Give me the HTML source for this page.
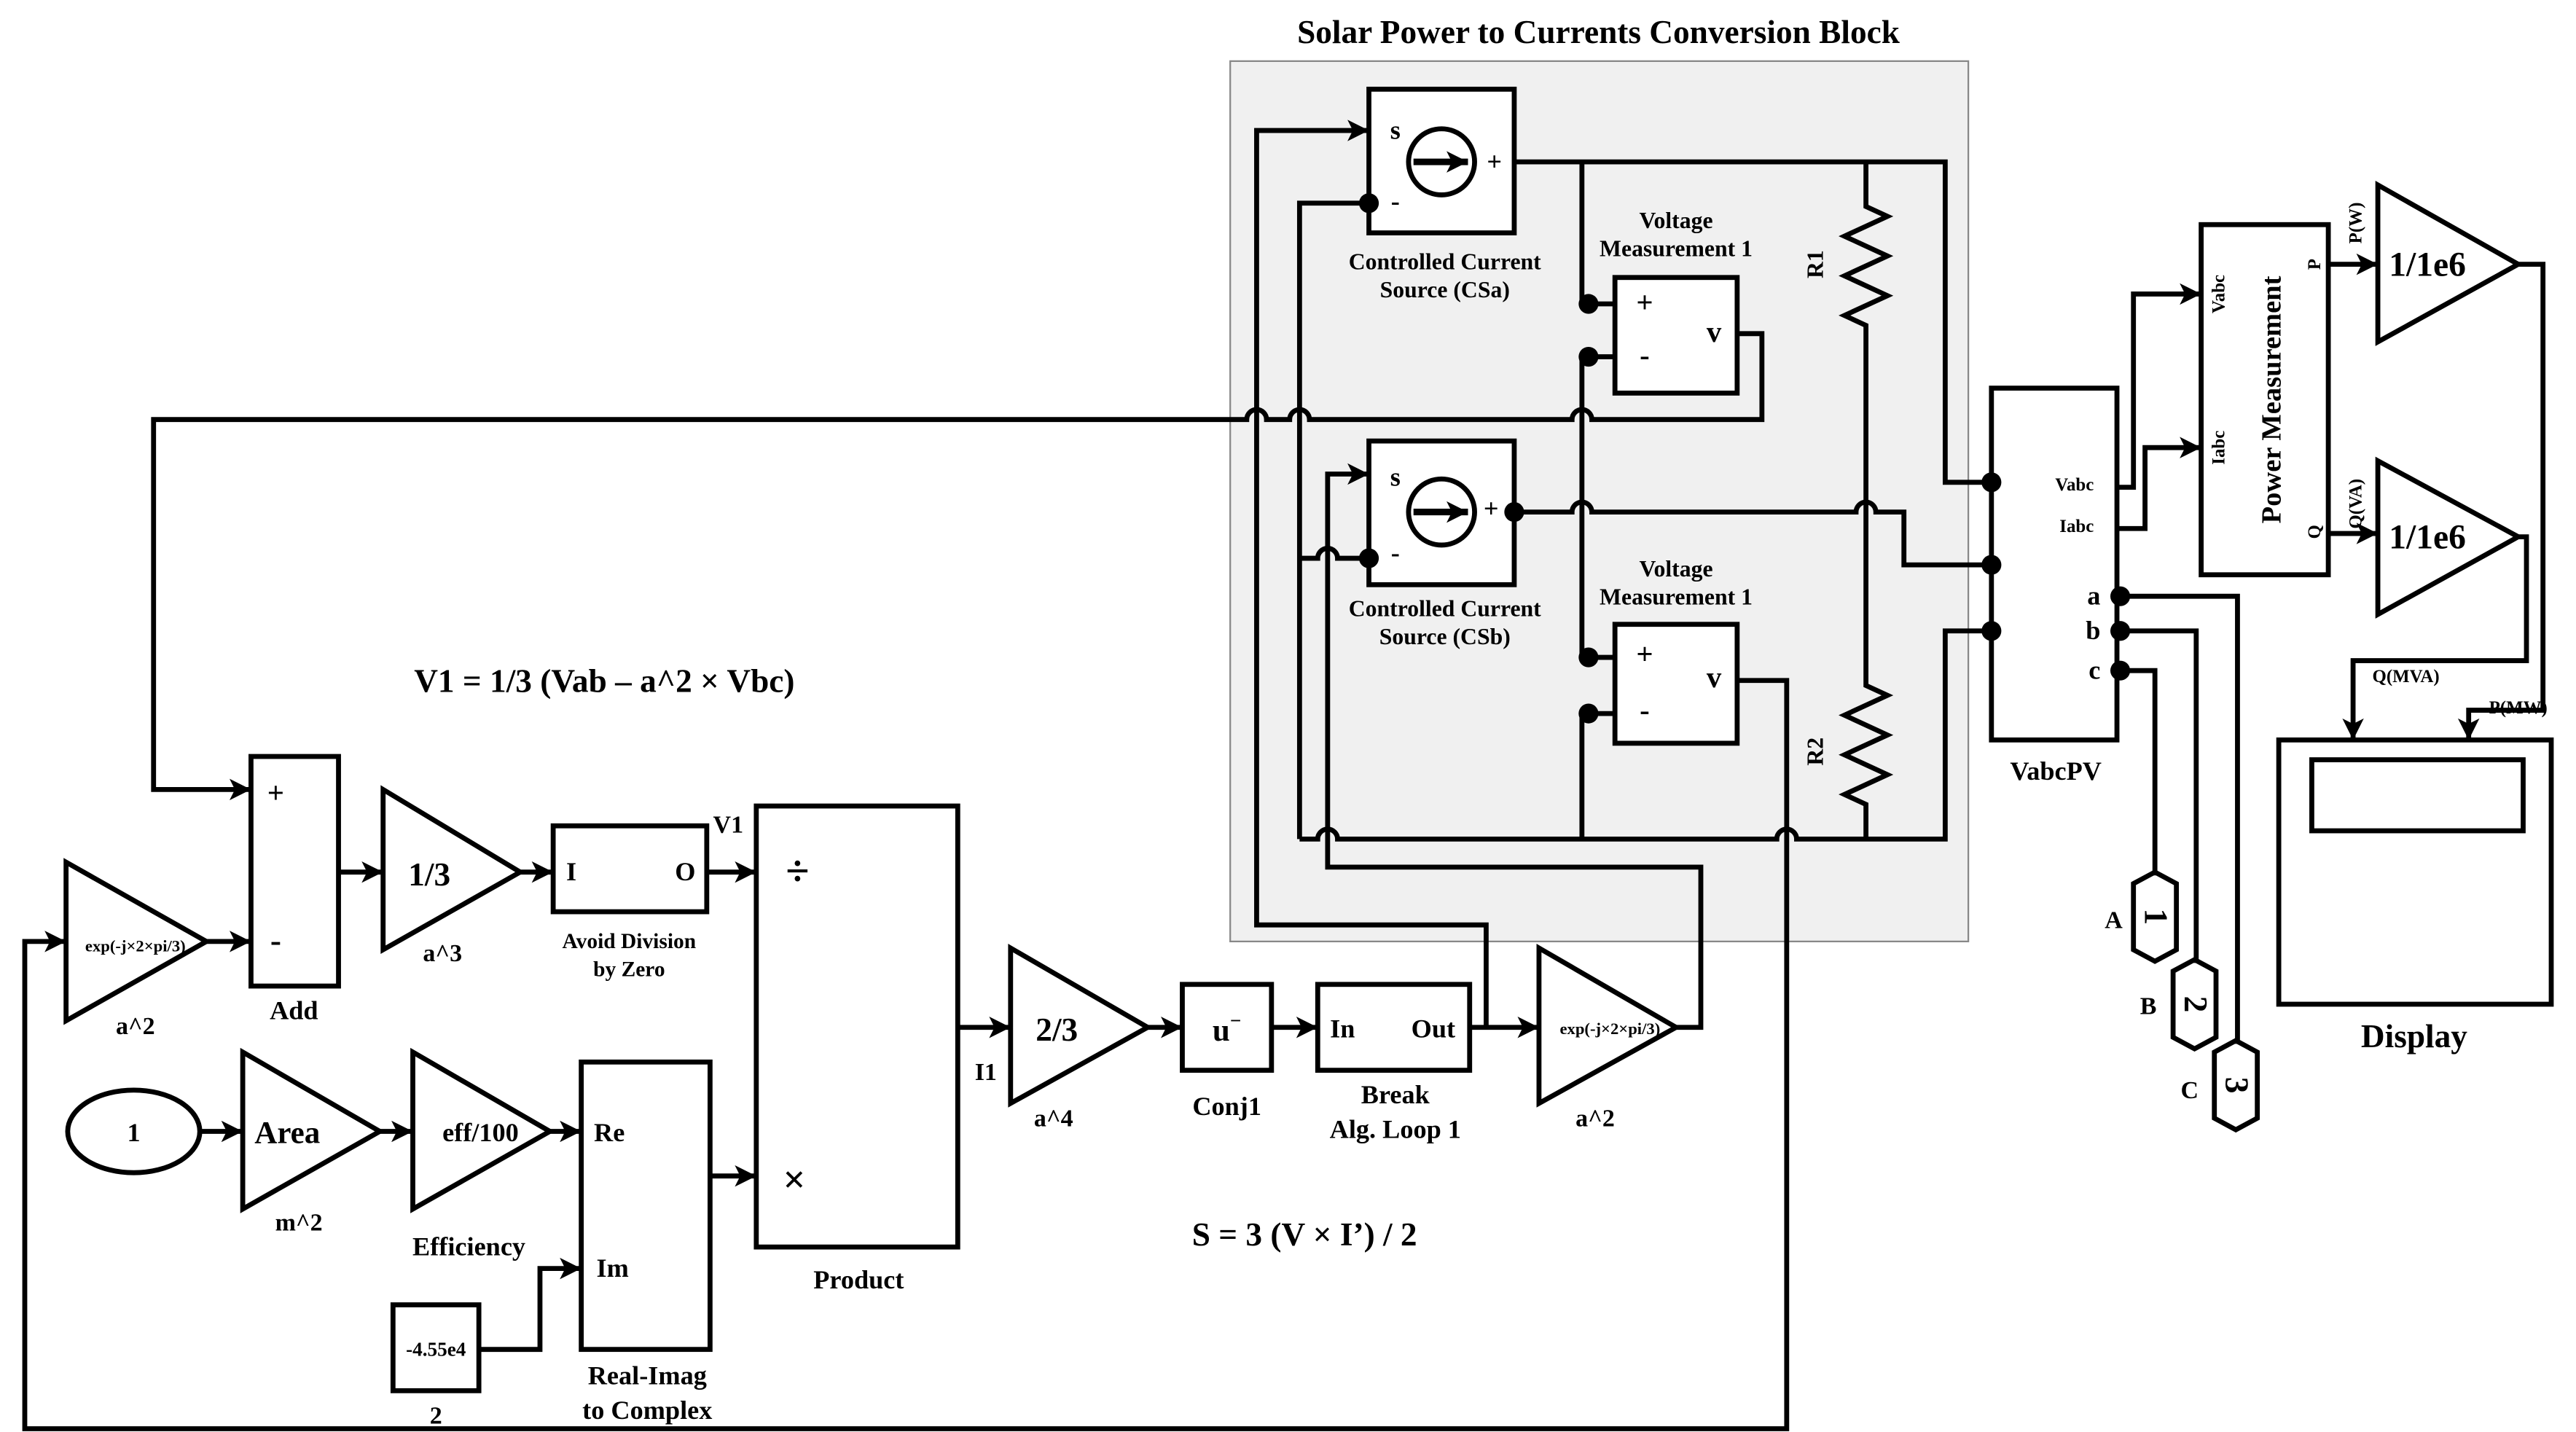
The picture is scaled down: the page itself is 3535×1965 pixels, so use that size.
<!DOCTYPE html>
<html><head><meta charset="utf-8"><style>
html,body{margin:0;padding:0;background:#fff;}
svg{display:block;}
text{font-family:"Liberation Serif",serif;font-weight:bold;fill:#000;}
</style></head><body>
<svg width="3535" height="1965" viewBox="0 0 1560 867" preserveAspectRatio="none" xmlns="http://www.w3.org/2000/svg">
<defs>
<marker id="ar" viewBox="0 0 10 10" refX="10" refY="5" markerWidth="14" markerHeight="13" markerUnits="userSpaceOnUse" orient="auto">
<path d="M0,0 L10,5 L0,10 L2.5,5 z" fill="#000"/></marker>
</defs>
<g fill="none" stroke="#000" stroke-width="3">
<rect x="745" y="37" width="447" height="533" fill="#f0f0f0" stroke="#888" stroke-width="1"/>
</g>
<text x="968" y="26" font-size="20" text-anchor="middle">Solar Power to Currents Conversion Block</text>
<g fill="none" stroke="#000" stroke-width="3" stroke-linejoin="miter">
<!-- CSa -->
<rect x="829" y="54" width="88" height="87" fill="#fff"/>
<circle cx="873" cy="98" r="20" fill="#fff"/>
<line x1="856" y1="98" x2="889" y2="98" marker-end="url(#ar)" stroke-width="4"/>
<!-- CSb -->
<rect x="829" y="267" width="88" height="87" fill="#fff"/>
<circle cx="873" cy="310" r="20" fill="#fff"/>
<line x1="856" y1="310" x2="889" y2="310" marker-end="url(#ar)" stroke-width="4"/>
<rect x="978" y="168" width="74" height="70" fill="#fff"/>
<rect x="978" y="378" width="74" height="72" fill="#fff"/>
<path d="M917,98 L1178,98 L1178,292 L1206,292"/>
<path d="M958,98 L958,184 L978,184"/>
<path d="M978,216 L958,216 L958,398 L978,398"/>
<path d="M978,432 L958,432 L958,508"/>
<!-- R1/R2 -->
<path d="M1130,98 L1130,125 L1143,131 L1117,143 L1143,155 L1117,167 L1143,179 L1117,191 L1130,197 L1130,415 L1143,421 L1117,433 L1143,445 L1117,457 L1143,469 L1117,481 L1130,487 L1130,508"/>
<path d="M917,310 L952,310 A6,6 0 0 1 964,310 L1124,310 A6,6 0 0 1 1136,310 L1153,310 L1153,342 L1206,342"/>
<path d="M787,508 L798,508 A6,6 0 0 1 810,508 L1076,508 A6,6 0 0 1 1088,508 L1178,508 L1178,382 L1206,382"/>
<path d="M829,123 L787,123 L787,508"/>
<path d="M829,338 L810,338 A6,6 0 0 0 798,338 L787,338"/>
<path d="M1015,622 L1030,622 L1030,525 L804,525 L804,287 L829,287" marker-end="url(#ar)"/>
<path d="M890,622 L932,622" marker-end="url(#ar)"/>
<path d="M900,622 L900,560 L761,560 L761,79 L829,79" marker-end="url(#ar)"/>
<path d="M1052,202 L1067,202 L1067,254 L964,254 A6,6 0 0 0 952,254 L793,254 A6,6 0 0 0 781,254 L767,254 A6,6 0 0 0 755,254 L93,254 L93,478 L152,478" marker-end="url(#ar)"/>
<path d="M1052,412 L1082,412 L1082,865 L15,865 L15,570 L40,570" marker-end="url(#ar)"/>
<!-- VabcPV -->
<rect x="1206" y="235" width="76" height="213" fill="#fff"/>
<path d="M1282,295 L1292,295 L1292,178 L1333,178" marker-end="url(#ar)"/>
<path d="M1282,320 L1299,320 L1299,271 L1333,271" marker-end="url(#ar)"/>
<rect x="1333" y="136" width="77" height="212" fill="#fff"/>
<path d="M1410,160 L1440,160" marker-end="url(#ar)"/>
<path d="M1410,323 L1440,323" marker-end="url(#ar)"/>
<polygon points="1440,112 1525,160 1440,207"/>
<polygon points="1440,279 1525,325 1440,372"/>
<path d="M1525,160 L1540,160 L1540,430 L1495,430 L1495,448" marker-end="url(#ar)"/>
<path d="M1525,325 L1530,325 L1530,400 L1425,400 L1425,448" marker-end="url(#ar)"/>
<rect x="1380" y="448" width="165" height="160"/>
<rect x="1400" y="460" width="128" height="43"/>
<path d="M1284,361 L1355,361 L1355,632"/>
<path d="M1284,382 L1330,382 L1330,583"/>
<path d="M1284,406 L1305,406 L1305,530"/>
<polygon points="1292,535 1305,528 1318,535 1318,575 1305,582 1292,575"/>
<polygon points="1316,588 1329,581 1342,588 1342,628 1329,635 1316,628"/>
<polygon points="1341,637 1354,630 1367,637 1367,677 1354,684 1341,677"/>
<!-- left chain -->
<polygon points="40,522 125,570 40,618"/>
<path d="M125,570 L152,570" marker-end="url(#ar)"/>
<rect x="152" y="458" width="53" height="139"/>
<path d="M205,528 L232,528" marker-end="url(#ar)"/>
<polygon points="232,478 315,528 232,575"/>
<path d="M315,528 L335,528" marker-end="url(#ar)"/>
<rect x="335" y="500" width="93" height="52"/>
<path d="M428,528 L458,528" marker-end="url(#ar)"/>
<rect x="458" y="488" width="122" height="267"/>
<path d="M580,622 L612,622" marker-end="url(#ar)"/>
<polygon points="612,574 695,622 612,668"/>
<path d="M695,622 L716,622" marker-end="url(#ar)"/>
<rect x="716" y="596" width="54" height="52"/>
<path d="M770,622 L798,622" marker-end="url(#ar)"/>
<rect x="798" y="596" width="92" height="52"/>
<polygon points="932,574 1015,622 932,668"/>
<ellipse cx="81" cy="685" rx="40" ry="25"/>
<path d="M121,685 L147,685" marker-end="url(#ar)"/>
<polygon points="147,637 230,685 147,732"/>
<path d="M230,685 L250,685" marker-end="url(#ar)"/>
<polygon points="250,637 333,685 250,732"/>
<path d="M333,685 L352,685" marker-end="url(#ar)"/>
<rect x="352" y="643" width="78" height="174"/>
<rect x="238" y="790" width="52" height="52"/>
<path d="M290,817 L327,817 L327,768 L352,768" marker-end="url(#ar)"/>
<path d="M430,712 L458,712" marker-end="url(#ar)"/>
</g>
<g fill="#000">
<circle cx="829" cy="123" r="6"/><circle cx="829" cy="338" r="6"/><circle cx="917" cy="310" r="6"/>
<circle cx="962" cy="184" r="6"/><circle cx="962" cy="216" r="6"/><circle cx="962" cy="398" r="6"/><circle cx="962" cy="432" r="6"/>
<circle cx="1206" cy="292" r="6"/><circle cx="1206" cy="342" r="6"/><circle cx="1206" cy="382" r="6"/>
<circle cx="1284" cy="361" r="6"/><circle cx="1284" cy="382" r="6"/><circle cx="1284" cy="406" r="6"/>
</g>
<g font-size="14" text-anchor="middle">
<text x="845" y="84" font-size="16">s</text><text x="905" y="103" font-size="16">+</text><text x="845" y="127" font-size="16">-</text>
<text x="845" y="294" font-size="16">s</text><text x="903" y="313" font-size="16">+</text><text x="845" y="340" font-size="16">-</text>
<text x="875" y="163">Controlled Current</text><text x="875" y="180">Source (CSa)</text>
<text x="875" y="373">Controlled Current</text><text x="875" y="390">Source (CSb)</text>
<text x="1015" y="138">Voltage</text><text x="1015" y="155">Measurement 1</text>
<text x="1015" y="349">Voltage</text><text x="1015" y="366">Measurement 1</text>
<text x="996" y="189" font-size="18">+</text><text x="996" y="221" font-size="18">-</text><text x="1038" y="207" font-size="18">v</text>
<text x="996" y="402" font-size="18">+</text><text x="996" y="436" font-size="18">-</text><text x="1038" y="416" font-size="18">v</text>
<text transform="translate(1104,160) rotate(-90)">R1</text>
<text transform="translate(1104,455) rotate(-90)">R2</text>
<text x="1268" y="297" font-size="11" text-anchor="end">Vabc</text>
<text x="1268" y="322" font-size="11" text-anchor="end">Iabc</text>
<text x="1272" y="366" font-size="16" text-anchor="end">a</text>
<text x="1272" y="387" font-size="16" text-anchor="end">b</text>
<text x="1272" y="411" font-size="16" text-anchor="end">c</text>
<text x="1245" y="472" font-size="16">VabcPV</text>
<text transform="translate(1381,242) rotate(-90)" font-size="17">Power Measurement</text>
<text transform="translate(1347,178) rotate(-90)" font-size="11">Vabc</text>
<text transform="translate(1347,271) rotate(-90)" font-size="11">Iabc</text>
<text transform="translate(1405,160) rotate(-90)" font-size="11">P</text>
<text transform="translate(1405,322) rotate(-90)" font-size="11">Q</text>
<text transform="translate(1430,135) rotate(-90)" font-size="11">P(W)</text>
<text transform="translate(1430,305) rotate(-90)" font-size="11">Q(VA)</text>
<text x="1470" y="167" font-size="21">1/1e6</text>
<text x="1470" y="332" font-size="21">1/1e6</text>
<text x="1457" y="413" font-size="11">Q(MVA)</text>
<text x="1525" y="432" font-size="11">P(MW)</text>
<text x="1462" y="634" font-size="20">Display</text>
<text transform="translate(1299,555) rotate(90)" font-size="20">1</text>
<text transform="translate(1323,608) rotate(90)" font-size="20">2</text>
<text transform="translate(1348,657) rotate(90)" font-size="20">3</text>
<text x="1280" y="562" font-size="15">A</text>
<text x="1301" y="614" font-size="15">B</text>
<text x="1326" y="665" font-size="15">C</text>
<text x="366" y="419" font-size="20">V1 = 1/3 (Vab – a^2 × Vbc)</text>
<text x="82" y="576" font-size="10" font-weight="normal">exp(-j×2×pi/3)</text>
<text x="82" y="626" font-size="15">a^2</text>
<text x="167" y="486" font-size="18" font-weight="normal">+</text>
<text x="167" y="576" font-size="20">-</text>
<text x="178" y="617" font-size="16">Add</text>
<text x="260" y="536" font-size="20">1/3</text>
<text x="268" y="582" font-size="15">a^3</text>
<text x="346" y="533" font-size="16" font-weight="normal">I</text>
<text x="415" y="533" font-size="16" font-weight="normal">O</text>
<text x="381" y="574" font-size="13">Avoid Division</text><text x="381" y="591" font-size="13">by Zero</text>
<text x="441" y="504" font-size="15">V1</text>
<text x="483" y="536" font-size="26" font-weight="normal">÷</text>
<text x="481" y="722" font-size="24" font-weight="normal">×</text>
<text x="520" y="780" font-size="16">Product</text>
<text x="597" y="654" font-size="15">I1</text>
<text x="640" y="630" font-size="20">2/3</text>
<text x="638" y="682" font-size="15">a^4</text>
<text x="743" y="630" font-size="19">u<tspan font-size="12" dy="-8">−</tspan></text>
<text x="743" y="675" font-size="16">Conj1</text>
<text x="813" y="628" font-size="16" font-weight="normal">In</text>
<text x="868" y="628" font-size="16" font-weight="normal">Out</text>
<text x="845" y="668" font-size="16">Break</text><text x="845" y="689" font-size="16">Alg. Loop 1</text>
<text x="975" y="626" font-size="10" font-weight="normal">exp(-j×2×pi/3)</text>
<text x="966" y="682" font-size="15">a^2</text>
<text x="81" y="691" font-size="16" font-weight="normal">1</text>
<text x="174" y="692" font-size="19">Area</text>
<text x="181" y="745" font-size="15">m^2</text>
<text x="291" y="691" font-size="16">eff/100</text>
<text x="284" y="760" font-size="16">Efficiency</text>
<text x="369" y="691" font-size="16">Re</text>
<text x="371" y="773" font-size="16">Im</text>
<text x="392" y="838" font-size="16">Real-Imag</text><text x="392" y="859" font-size="16">to Complex</text>
<text x="264" y="821" font-size="12">-4.55e4</text>
<text x="264" y="862" font-size="15">2</text>
<text x="790" y="754" font-size="20">S = 3  (V × I’) / 2</text>
</g>
</svg>
</body></html>
